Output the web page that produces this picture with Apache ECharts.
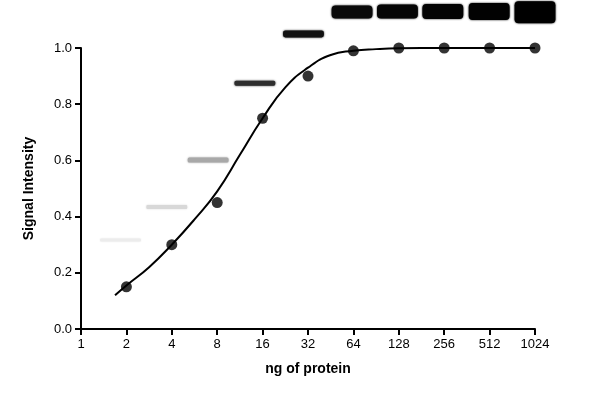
<!DOCTYPE html>
<html>
<head>
<meta charset="utf-8">
<script src="https://cdn.jsdelivr.net/npm/echarts@6/dist/echarts.min.js"></script>
<style>html,body{margin:0;padding:0;background:#fff}#main{width:589px;height:402px}</style>
</head>
<body>
<div id="main"></div>
<script>
// x positions are log2 of ng (0 -> 1 ng, 10 -> 1024 ng)
var xLabels = ['1', '2', '4', '8', '16', '32', '64', '128', '256', '512', '1024'];
var pointX = [1, 2, 3, 4, 5, 6, 7, 8, 9, 10];
var pointY = [0.15, 0.30, 0.45, 0.75, 0.90, 0.99, 1.0, 1.0, 1.0, 1.0];
// fitted curve
var curveX = [0.75, 1, 1.5, 2, 2.5, 3, 3.5, 4, 4.5, 5, 5.5, 6, 6.5, 7, 8, 9, 10];
var curveY = [0.12, 0.155, 0.22, 0.30, 0.39, 0.49, 0.62, 0.75, 0.86, 0.93, 0.975, 0.99, 0.996, 0.999, 1.0, 1.0, 1.0];
// blot bands
var bandX = [0.87, 1.89, 2.8, 3.83, 4.9, 5.97, 6.97, 7.97, 8.99, 10.0];
var bandY = [0.317, 0.434, 0.601, 0.875, 1.05, 1.128, 1.13, 1.13, 1.13, 1.127];
var bandShade = ['#ececec', '#d8d8d8', '#a8a8a8', '#2e2e2e', '#111111', '#0a0a0a', '#050505', '#030303', '#020202', '#000000'];
var bandThick = [3, 4, 5, 5, 7, 13, 14, 15, 17, 22];

var bandData = [];
for (var i = 0; i < bandX.length; i++) {
    bandData.push([bandX[i], bandY[i], bandThick[i], i]);
}
var curveData = curveX.map(function (x, i) { return [x, curveY[i]]; });
var pointData = pointX.map(function (x, i) { return [x, pointY[i]]; });

var font = 'Liberation Sans, Arial, sans-serif';
var chart = echarts.init(document.getElementById('main'));
chart.setOption({
    animation: false,
    grid: {left: 81, right: 54, top: 48, bottom: 73},
    xAxis: {
        type: 'value', min: 0, max: 10, interval: 1,
        name: 'ng of protein', nameLocation: 'middle', nameGap: 33,
        nameTextStyle: {fontFamily: font, fontSize: 14, fontWeight: 'bold', color: '#000'},
        axisLine: {lineStyle: {color: '#000', width: 2}},
        axisTick: {length: 6, lineStyle: {color: '#000', width: 2}},
        axisLabel: {fontFamily: font, fontSize: 13, color: '#000', margin: 9,
            formatter: function (v) { return xLabels[v]; }},
        splitLine: {show: false}
    },
    yAxis: {
        type: 'value', min: 0, max: 1, interval: 0.2,
        name: 'Signal Intensity', nameLocation: 'middle', nameGap: 45,
        nameTextStyle: {fontFamily: font, fontSize: 14, fontWeight: 'bold', color: '#000'},
        axisLine: {show: true, lineStyle: {color: '#000', width: 2}},
        axisTick: {show: true, length: 6, lineStyle: {color: '#000', width: 2}},
        axisLabel: {fontFamily: font, fontSize: 13, color: '#000', margin: 9,
            formatter: function (v) { return v.toFixed(1); }},
        splitLine: {show: false}
    },
    series: [
        {
            type: 'custom', clip: false, z: 1,
            renderItem: function (params, api) {
                var c = api.coord([api.value(0), api.value(1)]);
                var w = api.size([0.9, 0])[0];
                var h = api.value(2);
                return {
                    type: 'rect',
                    shape: {x: c[0] - w / 2, y: c[1] - h / 2, width: w, height: h, r: Math.min(4, h / 3)},
                    style: {fill: bandShade[api.value(3)], shadowBlur: 2, shadowColor: bandShade[api.value(3)]}
                };
            },
            data: bandData
        },
        {
            type: 'line', smooth: true, showSymbol: false, z: 2,
            lineStyle: {color: '#000', width: 2},
            data: curveData
        },
        {
            type: 'scatter', symbolSize: 11, z: 3,
            itemStyle: {color: '#000'},
            data: pointData
        }
    ]
});
</script>
</body>
</html>
